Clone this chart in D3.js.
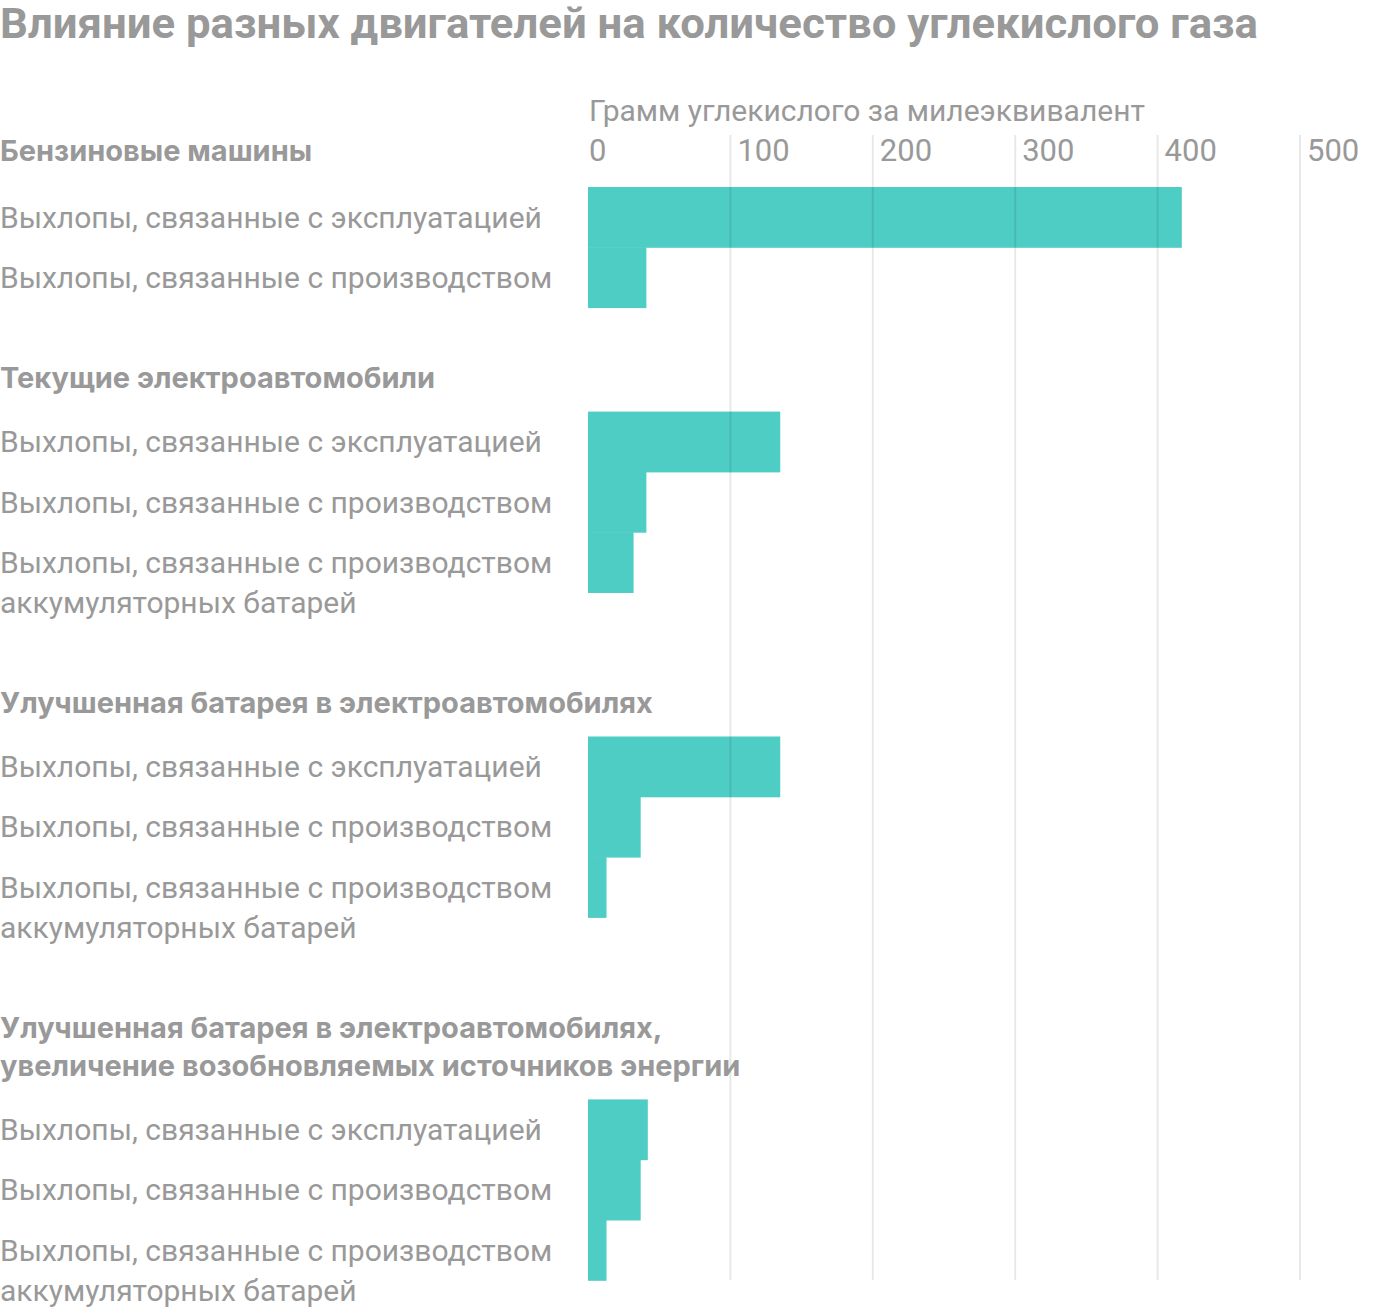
<!DOCTYPE html>
<html><head><meta charset="utf-8">
<script src="https://cdn.jsdelivr.net/npm/d3@7"></script>
<style>
html,body{margin:0;padding:0;background:#fff;}
svg{display:block;}
</style>
</head><body>
<svg id="chart" width="1400" height="1308"></svg>
<script>
const chartTitle = "Влияние разных двигателей на количество углекислого газа";
const axisTitle = "Грамм углекислого за милеэквивалент";
const tickValues = [0, 100, 200, 300, 400, 500];

const groupNames = [
  ["Бензиновые машины"],
  ["Текущие электроавтомобили"],
  ["Улучшенная батарея в электроавтомобилях"],
  ["Улучшенная батарея в электроавтомобилях,", "увеличение возобновляемых источников энергии"]
];
const rowLabels = [
  ["Выхлопы, связанные с эксплуатацией"],
  ["Выхлопы, связанные с производством"],
  ["Выхлопы, связанные с производством", "аккумуляторных батарей"]
];
// row index per group (into rowLabels)
const groupRows = [[0, 1], [0, 1, 2], [0, 1, 2], [0, 1, 2]];
// values (g CO2 per mile equivalent)
const valuesGasoline = [417, 41];
const valuesCurrentEV = [135, 41, 32];
const valuesBetterBattery = [135, 37, 13];
const valuesBetterBatteryRenewables = [42, 37, 13];
const groupValues = [valuesGasoline, valuesCurrentEV, valuesBetterBattery, valuesBetterBatteryRenewables];

const svg = d3.select("#chart");
const gray = "#999999";
const teal = "#4ECDC4";
const regFont = "Roboto, 'Noto Sans', sans-serif";
const boldFont = "Inter, Roboto, sans-serif";

const x = d3.scaleLinear().domain([0, 500]).range([588, 1300]);

// layout
const rowH = 60.3, headLine = 38, barOffset = 34, groupGap = 70, labelLine = 40;
let cursor = 150;
const layout = [];
groupNames.forEach((names, gi) => {
  const headerYs = names.map((n, i) => cursor + i * headLine);
  const lastHead = headerYs[headerYs.length - 1];
  const barTop = lastHead + (gi === 0 ? 37 : barOffset);
  const rows = groupRows[gi].map((ri, k) => ({label: rowLabels[ri], value: groupValues[gi][k], y0: barTop + k * rowH}));
  const end = barTop + rows.length * rowH;
  layout.push({names, headerYs, rows});
  const lastLines = rows[rows.length - 1].label.length;
  cursor = end + groupGap + (lastLines - 1) * labelLine;
});
const bottom = layout[layout.length - 1].rows.slice(-1)[0].y0 + rowH;

// title
svg.append("text").attr("x", 0).attr("y", 38)
  .attr("font-family", regFont).attr("font-weight", 700).attr("font-size", 42)
  .attr("textLength", 1258).attr("lengthAdjust", "spacingAndGlyphs")
  .attr("fill", gray).text(chartTitle);

// axis title
svg.append("text").attr("x", 589).attr("y", 121)
  .attr("font-family", regFont).attr("font-size", 30).attr("fill", gray).text(axisTitle);

// bars
layout.forEach(g => {
  svg.append("g").selectAll("rect").data(g.rows).join("rect")
    .attr("x", x(0)).attr("y", d => d.y0)
    .attr("width", d => x(d.value) - x(0)).attr("height", rowH + 0.5)
    .attr("fill", teal);
});

// gridlines
svg.append("g").selectAll("line").data(tickValues.filter(v => v > 0)).join("line")
  .attr("x1", d => x(d)).attr("x2", d => x(d))
  .attr("y1", 135).attr("y2", bottom)
  .attr("stroke", "#000").attr("stroke-opacity", 0.09).attr("stroke-width", 2);

// tick labels
svg.append("g").selectAll("text").data(tickValues).join("text")
  .attr("x", d => x(d) + (d === 0 ? 1 : 7)).attr("y", 161)
  .attr("font-family", regFont).attr("font-size", 31).attr("fill", gray)
  .text(d => d);

// headers and labels
layout.forEach(g => {
  g.names.forEach((n, i) => {
    svg.append("text").attr("x", 0).attr("y", g.headerYs[i] + 10.5)
      .attr("font-family", boldFont).attr("font-weight", 700).attr("font-size", 29)
      .attr("fill", gray).text(n);
  });
  g.rows.forEach(r => {
    r.label.forEach((l, i) => {
      svg.append("text").attr("x", 0).attr("y", r.y0 + rowH / 2 + 10.5 + i * labelLine)
        .attr("font-family", regFont).attr("font-size", 30).attr("fill", gray).text(l);
    });
  });
});
</script>
</body></html>
